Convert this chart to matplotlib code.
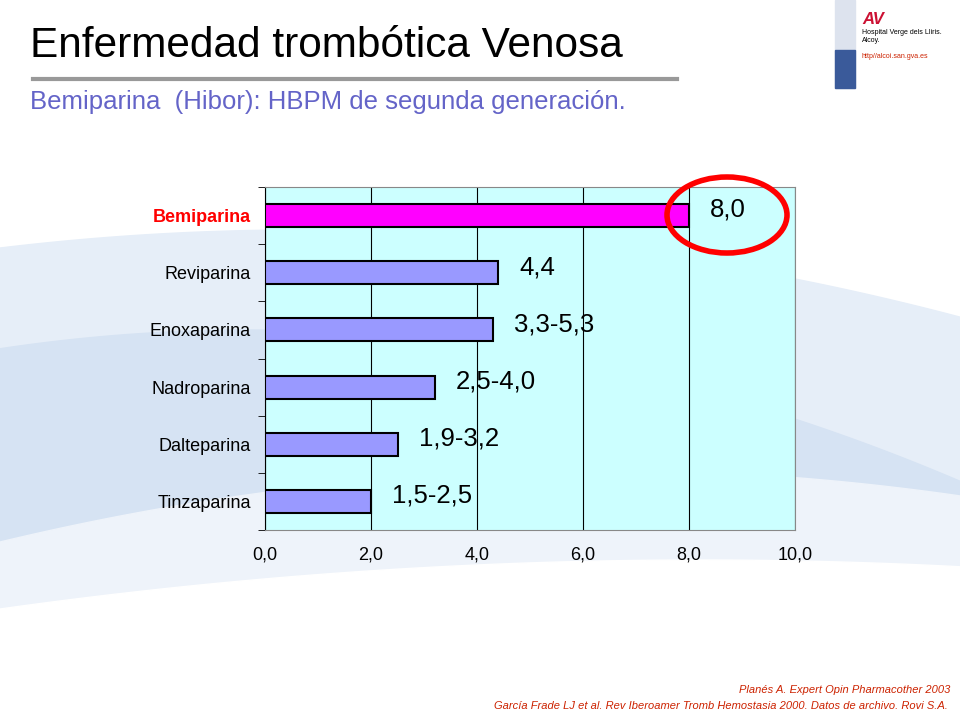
import matplotlib.pyplot as plt
from matplotlib.patches import Ellipse, Polygon
import numpy as np

categories = ["Tinzaparina", "Dalteparina", "Nadroparina", "Enoxaparina", "Reviparina", "Bemiparina"]
values = [2.0, 2.5, 3.2, 4.3, 4.4, 8.0]
bar_labels = ["1,5-2,5", "1,9-3,2", "2,5-4,0", "3,3-5,3", "4,4", "8,0"]
xticks = [0, 2, 4, 6, 8, 10]
xtick_labels = ["0,0", "2,0", "4,0", "6,0", "8,0", "10,0"]

plt.rcParams['font.family'] = 'Liberation Sans'
fig = plt.figure(figsize=(9.6, 7.2), dpi=100)
fig.patch.set_facecolor('white')

# fondo: bandas azul claro
bg = fig.add_axes([0, 0, 1, 1], zorder=-10)
bg.set_xlim(0, 960); bg.set_ylim(720, 0); bg.axis('off')
xs = np.linspace(0, 960, 100)
bg.fill_between(xs, 230 + 0.0002 * (xs - 300) ** 2, 720, color='#e6eef8')
bg.fill_between(xs, 330 + 0.0003 * (xs - 250) ** 2, 720, color='#d6e3f3')
bg.fill_between(xs, 470 + 0.0002 * (xs - 600) ** 2, 720, color='#eef3fa')
bg.fill_between(xs, 560 + 0.0001 * (xs - 700) ** 2, 720, color='white')
bg.plot([33, 677], [79, 79], color='#999999', lw=3)
bg.add_patch(Polygon([[835, 0], [855, 0], [855, 88], [835, 88]], color='#dde3ee'))
bg.add_patch(Polygon([[835, 50], [855, 50], [855, 88], [835, 88]], color='#3a5a9a'))

fig.text(30, 720 - 46, "Enfermedad trombótica Venosa", fontsize=30.5, va='center', transform=None)
fig.text(30, 720 - 102, "Bemiparina  (Hibor): HBPM de segunda generación.", fontsize=18.5,
         color='#6464c8', va='center', transform=None)
fig.text(862, 720 - 37, "Hospital Verge dels Lliris.\nAlcoy.", fontsize=5, va='center', transform=None)
fig.text(862, 720 - 57, "http//alcoi.san.gva.es", fontsize=5, color='#cc2200', va='center', transform=None)
fig.text(862, 720 - 20, "AV", fontsize=12, color='#cc1133', fontweight='bold', style='italic',
         va='center', transform=None)
fig.text(950, 720 - 690, "Planés A. Expert Opin Pharmacother 2003", fontsize=8, style='italic',
         color='#cc2200', ha='right', va='center', transform=None)
fig.text(948, 720 - 706, "García Frade LJ et al. Rev Iberoamer Tromb Hemostasia 2000. Datos de archivo. Rovi S.A.",
         fontsize=8, style='italic', color='#cc2200', ha='right', va='center', transform=None)

ax = fig.add_axes([265 / 960, 1 - 530 / 720, 530 / 960, 343 / 720])
ax.set_facecolor('#ccffff')
y = np.arange(len(categories))
colors = ['#9999ff'] * 5 + ['#ff00ff']
ax.barh(y, values, height=0.4, color=colors, edgecolor='black', lw=1.5, zorder=3)
for yi, v, lab in zip(y, values, bar_labels):
    ax.text(v + 0.4, yi + 0.1, lab, fontsize=18.5, va='center', zorder=4)
ax.set_xlim(0, 10)
ax.set_ylim(-0.5, 5.5)
ax.set_xticks(xticks)
ax.set_xticklabels(xtick_labels, fontsize=13)
ax.set_yticks(y)
ax.set_yticklabels(categories, fontsize=13)
ax.get_yticklabels()[-1].set_color('red')
ax.get_yticklabels()[-1].set_fontweight('bold')
ax.set_yticks(np.arange(-0.5, 6, 1), minor=True)
ax.tick_params(axis='y', which='major', length=0, pad=10)
ax.tick_params(axis='y', which='minor', length=5)
ax.tick_params(axis='x', length=0, pad=12)
ax.grid(axis='x', color='black', lw=0.8, zorder=1)
for s in ['top', 'right', 'bottom']:
    ax.spines[s].set_color('#888888')

ov = fig.add_axes([0, 0, 1, 1], zorder=20)
ov.set_xlim(0, 960); ov.set_ylim(720, 0); ov.axis('off')
ov.add_patch(Ellipse((727, 215), 120, 76, fill=False, edgecolor='red', lw=4))

fig.savefig("out.png", dpi=100)
